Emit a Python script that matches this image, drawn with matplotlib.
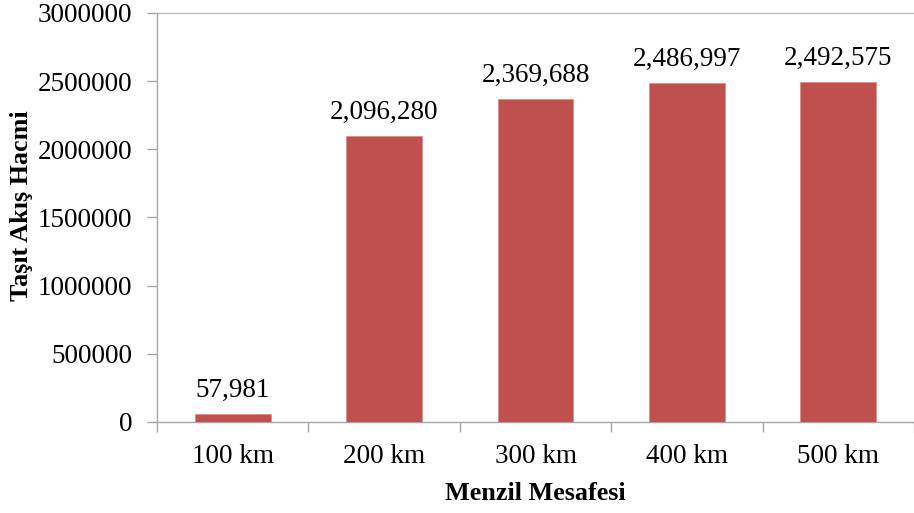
import matplotlib
matplotlib.use("Agg")
import matplotlib.pyplot as plt
from matplotlib.ticker import FixedLocator

categories = ["100 km", "200 km", "300 km", "400 km", "500 km"]
values = [57981, 2096280, 2369688, 2486997, 2492575]
y_ticks = [0, 500000, 1000000, 1500000, 2000000, 2500000, 3000000]

plt.rcParams["font.family"] = ["Liberation Serif", "DejaVu Serif"]

fig = plt.figure(figsize=(9.14, 5.13), dpi=100)
ax = fig.add_axes([0.1718, 0.1774, 0.8282, 0.7973])

x = list(range(len(categories)))
bars = ax.bar(x, values, width=0.5, color="#C0504D", edgecolor="#D9908E", linewidth=0.6, zorder=3)

for xi, v in zip(x, values):
    ax.annotate(f"{v:,}", (xi, v), xytext=(0, 8), textcoords="offset points",
                ha="center", va="bottom", fontsize=19.5, color="black")

ax.set_xlim(-0.5, len(categories) - 0.5)
ax.set_ylim(0, 3000000)
ax.set_yticks(y_ticks)
ax.set_yticklabels([str(t) for t in y_ticks])
ax.set_xticks(x)
ax.set_xticklabels(categories)
ax.xaxis.set_minor_locator(FixedLocator([i - 0.5 for i in range(len(categories) + 1)]))

ax.tick_params(axis="y", which="major", direction="out", length=7, width=1, color="#A6A6A6",
               labelsize=19.5, pad=11)
ax.tick_params(axis="x", which="major", length=0, labelsize=19.5, pad=15.5)
ax.tick_params(axis="x", which="minor", direction="out", length=7, width=1, color="#A6A6A6")

for side in ["top", "right"]:
    ax.spines[side].set_visible(False)
for side in ["left", "bottom"]:
    ax.spines[side].set_color("#A6A6A6")
    ax.spines[side].set_linewidth(1)

# gridline at the top of the value range
ax.axhline(3000000, color="#BFBFBF", linewidth=1, zorder=1, clip_on=False)

ax.set_xlabel("Menzil Mesafesi", fontsize=18.8, fontweight="bold", labelpad=9.5)
ax.set_ylabel("Taşıt Akış Hacmi", fontsize=18.8, fontweight="bold")
ax.yaxis.set_label_coords(-0.164, 0.528)

fig.savefig("out.png", dpi=100)
